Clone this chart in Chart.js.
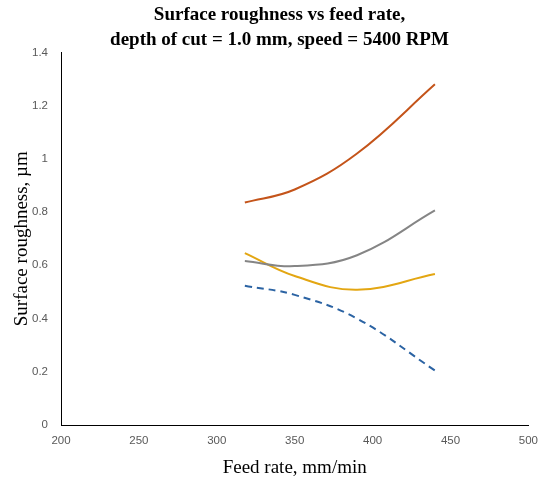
<!DOCTYPE html>
<html>
<head>
<meta charset="utf-8">
<script src="https://cdn.jsdelivr.net/npm/chart.js@4/dist/chart.umd.min.js"></script>
<style>
  html, body { margin: 0; padding: 0; background: #fff; }
  #wrap { width: 539px; height: 479px; }
</style>
</head>
<body>
<div id="wrap"><canvas id="chart" width="539" height="479"></canvas></div>
<script>
// Feed rate (mm/min) and surface roughness (um) for each curve
const feedRates = [318, 350, 390, 440];
const seriesBlue = [0.523, 0.489, 0.400, 0.205];
const seriesOrange = [0.836, 0.885, 1.020, 1.280];
const seriesGray = [0.616, 0.597, 0.638, 0.806];
const seriesYellow = [0.646, 0.560, 0.508, 0.567];
const xTicks = [200, 250, 300, 350, 400, 450, 500];
const yTicks = [0, 0.2, 0.4, 0.6, 0.8, 1, 1.2, 1.4];

const toPoints = (vals) => vals.map((v, i) => ({ x: feedRates[i], y: v }));

const serif = 'Liberation Serif, Times New Roman, serif';
const sans = 'Liberation Sans, Arial, sans-serif';

new Chart(document.getElementById('chart'), {
  type: 'line',
  data: {
    datasets: [
      { data: toPoints(seriesBlue), borderColor: '#2B63A3', borderDash: [7, 5] },
      { data: toPoints(seriesOrange), borderColor: '#C4541A' },
      { data: toPoints(seriesGray), borderColor: '#858585' },
      { data: toPoints(seriesYellow), borderColor: '#E3A612' }
    ]
  },
  options: {
    responsive: false,
    animation: false,
    // left padding nudges the title right, the y axis width makes up for it
    layout: { padding: { left: 20, right: 0, top: 0, bottom: 0 } },
    elements: {
      line: { borderWidth: 2, tension: 0.4, fill: false },
      point: { radius: 0 }
    },
    plugins: {
      legend: { display: false },
      tooltip: { enabled: false },
      title: {
        display: true,
        text: ['Surface roughness vs feed rate,', 'depth of cut = 1.0 mm, speed = 5400 RPM'],
        color: '#000',
        font: { family: serif, size: 19, weight: 'bold', lineHeight: 1.3 },
        padding: { top: 3, bottom: 0 }
      }
    },
    scales: {
      x: {
        type: 'linear',
        min: xTicks[0],
        max: xTicks[xTicks.length - 1],
        afterBuildTicks: (axis) => { axis.ticks = xTicks.map(v => ({ value: v })); },
        afterFit: (axis) => { axis.height = 54; },
        grid: { display: false },
        border: { display: true, color: '#000', width: 1 },
        ticks: { color: '#595959', font: { family: sans, size: 11.5 }, padding: 1, maxRotation: 0 },
        title: {
          display: true,
          text: 'Feed rate, mm/min',
          color: '#000',
          font: { family: serif, size: 19 },
          padding: { top: 6, bottom: 0 }
        }
      },
      y: {
        min: yTicks[0],
        max: yTicks[yTicks.length - 1],
        afterBuildTicks: (axis) => { axis.ticks = yTicks.map(v => ({ value: v })); },
        afterFit: (axis) => { axis.width = 41; },
        grid: { display: false },
        border: { display: true, color: '#000', width: 1 },
        ticks: {
          color: '#595959',
          font: { family: sans, size: 11.5 },
          padding: 5,
          callback: (v) => String(Math.round(v * 10) / 10)
        },
        title: {
          display: true,
          text: 'Surface roughness, µm',
          color: '#000',
          font: { family: serif, size: 19 },
          padding: { top: -9, bottom: 0 }
        }
      }
    }
  }
});
</script>
</body>
</html>
